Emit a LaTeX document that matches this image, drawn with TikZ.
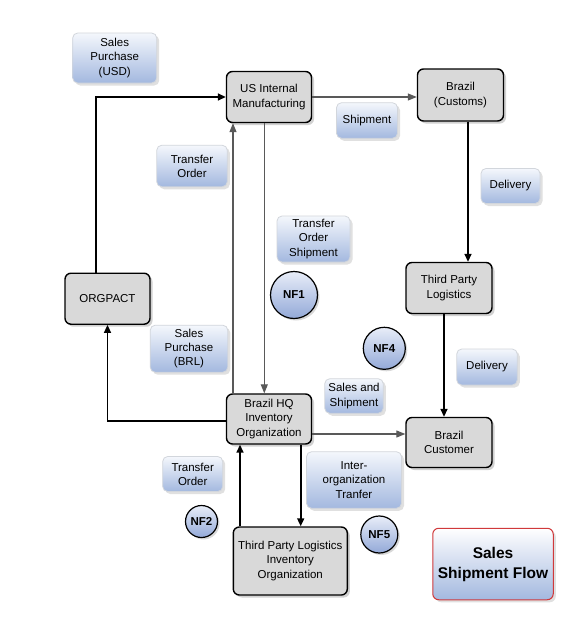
\documentclass[tikz,border=0pt]{standalone}
\usepackage{fontspec}
\setmainfont{Liberation Sans}
\usetikzlibrary{arrows.meta,shadows,calc}
\definecolor{boxgray}{HTML}{D9D9D9}
\definecolor{lbltop}{HTML}{F4F7FC}
\definecolor{lblbot}{HTML}{A3B8DF}
\definecolor{lblline}{HTML}{D2D6DC}
\definecolor{circtop}{HTML}{E8EDF8}
\definecolor{circbot}{HTML}{93A9D8}
\definecolor{titleline}{HTML}{D0393B}
\tikzset{
  txt/.style={font=\fontsize{11.5}{14.2}\selectfont, align=center, inner sep=0pt},
  gbox/.style={txt, draw=black, line width=1.4pt, fill=boxgray, rounded corners=6pt,
    drop shadow={shadow xshift=2.5pt, shadow yshift=-2.5pt, fill=black!18, opacity=1}},
  lbl/.style={txt, draw=lblline, line width=0.8pt, top color=lbltop, bottom color=lblbot,
    rounded corners=5pt,
    drop shadow={shadow xshift=2.5pt, shadow yshift=-2.5pt, fill=black!12, opacity=1}},
  nf/.style={circle, draw=black, line width=1.2pt, top color=circtop, bottom color=circbot,
    inner sep=0pt, font=\fontsize{11.5}{13}\selectfont\bfseries,
    drop shadow={shadow xshift=2pt, shadow yshift=-2pt, fill=black!15, opacity=1}},
  titlebox/.style={align=center, inner sep=0pt, draw=titleline, line width=1pt,
    top color=white, bottom color=lblbot, rounded corners=6pt,
    font=\fontsize{15.5}{20}\selectfont\bfseries,
    drop shadow={shadow xshift=2.5pt, shadow yshift=-2.5pt, fill=black!12, opacity=1}},
  blk/.style={draw=black, line width=1.6pt, -{Triangle[length=8pt,width=7pt]}},
  gry/.style={draw=black!65, line width=1.1pt, -{Triangle[length=9pt,width=7pt]},
    color=black!65},
}
\begin{document}
\begin{tikzpicture}[x=1pt,y=-1pt]
\useasboundingbox[fill=white] (0,0) rectangle (576,624);

% main boxes
\node[gbox, minimum width=85pt, minimum height=51pt] (usim) at (269,97) {US Internal\\Manufacturing};
\node[gbox, minimum width=86pt, minimum height=52pt] (customs) at (460.5,95) {Brazil\\(Customs)};
\node[gbox, minimum width=86pt, minimum height=51pt] (tpl) at (449,288) {Third Party\\Logistics};
\node[gbox, minimum width=86pt, minimum height=50pt] (cust) at (449,442.5) {Brazil\\Customer};
\node[gbox, minimum width=85pt, minimum height=51pt] (org) at (107.5,298.7) {ORGPACT};
\node[gbox, minimum width=85pt, minimum height=50pt] (hq) at (269,419) {Brazil HQ\\Inventory\\Organization};
\node[gbox, minimum width=114pt, minimum height=68pt] (tplinv) at (290.3,561) {Third Party Logistics\\Inventory\\Organization};

% labels
\node[lbl, minimum width=84pt, minimum height=50pt] (spusd) at (114.7,58) {Sales\\Purchase\\(USD)};
\node[lbl, minimum width=70.5pt, minimum height=41.5pt] (to1) at (192,166) {Transfer\\Order};
\node[lbl, minimum width=61pt, minimum height=35.5pt] (ship) at (367,120.5) {Shipment};
\node[lbl, minimum width=59pt, minimum height=35pt] (del1) at (510.5,186) {Delivery};
\node[lbl, minimum width=73pt, minimum height=46pt] (tos) at (313.5,239) {Transfer\\Order\\Shipment};
\node[lbl, minimum width=77.5pt, minimum height=47pt] (spbrl) at (189,348.7) {Sales\\Purchase\\(BRL)};
\node[lbl, minimum width=58.5pt, minimum height=34.5pt] (sas) at (354,396) {Sales and\\Shipment};
\node[lbl, minimum width=60.5pt, minimum height=36pt] (del2) at (487,367) {Delivery};
\node[lbl, minimum width=60pt, minimum height=35pt] (to2) at (192.7,474) {Transfer\\Order};
\node[lbl, minimum width=95pt, minimum height=56.5pt] (inter) at (354,480) {Inter-\\organization\\Tranfer};
\node[titlebox, minimum width=120.5pt, minimum height=71.5pt] (title) at (493,564) {Sales\\Shipment Flow};

% circles
\node[nf, minimum size=47pt] (nf1) at (294,295) {NF1};
\node[nf, minimum size=42pt] (nf4) at (384.3,348.3) {NF4};
\node[nf, minimum size=32pt] (nf2) at (201.5,521.5) {NF2};
\node[nf, minimum size=37pt] (nf5) at (379.3,534.5) {NF5};

% connectors
\draw[blk] ([xshift=-11.5pt]org.north) |- (usim.west);
\draw[gry] (usim.east) -- (usim.east -| customs.west);
\draw[blk] ([xshift=7.5pt]customs.south) -- ([xshift=7.5pt]customs.south |- tpl.north);
\draw[blk] ([xshift=-5pt]tpl.south) -- ([xshift=-5pt]tpl.south |- cust.north);
\draw[gry] ([xshift=-4.7pt]usim.south) -- ([xshift=-4.7pt]usim.south |- hq.north);
\draw[gry] ([xshift=-36pt]hq.north) -- ([xshift=-36pt]hq.north |- usim.south);
\draw[blk] ([yshift=-1.7pt]hq.west) -| (org.south);
\draw[gry] ([yshift=-15pt]hq.east) -- ([yshift=-15pt]hq.east -| cust.west);
\draw[blk] ([xshift=31.7pt]hq.south) -- ([xshift=31.7pt]hq.south |- tplinv.north);
\draw[blk] ([xshift=-50.3pt]tplinv.north) -- ([xshift=-50.3pt]tplinv.north |- hq.south);
\end{tikzpicture}
\end{document}
